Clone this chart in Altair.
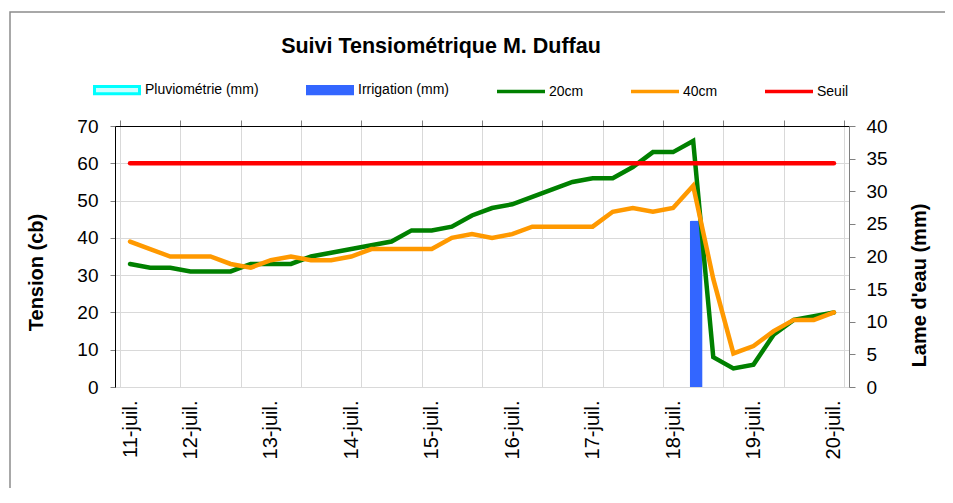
import json
import altair as alt
import pandas as pd

# ---------------- data ----------------
idx = list(range(36))
tension_20cm = [33, 32, 32, 31, 31, 31, 33, 33, 33, 35, 36, 37, 38, 39, 42, 42, 43, 46,
                48, 49, 51, 53, 55, 56, 56, 59, 63, 63, 66, 8, 5, 6, 14, 18, 19, 20]
tension_40cm = [39, 37, 35, 35, 35, 33, 32, 34, 35, 34, 34, 35, 37, 37, 37, 37, 40, 41,
                40, 41, 43, 43, 43, 43, 47, 48, 47, 48, 54, 29, 9, 11, 15, 18, 18, 20]
seuil = [60] * 36
irrigation = [0] * 28 + [25.5] + [0] * 7
pluviometrie = [0] * 36

date_labels = ["11-juil.", "12-juil.", "13-juil.", "14-juil.", "15-juil.",
               "16-juil.", "17-juil.", "18-juil.", "19-juil.", "20-juil."]
label_positions = [0, 3, 7, 11, 15, 19, 23, 27, 31, 35]

series_names = ["Pluviométrie (mm)", "Irrigation (mm)", "20cm", "40cm", "Seuil"]

df = pd.DataFrame({
    "idx": idx,
    "t20": tension_20cm,
    "t40": tension_40cm,
    "seuil": seuil,
    "irrigation": irrigation,
    "pluvio": pluviometrie,
})

FONT = "Liberation Sans"
GREEN, ORANGE, RED, BLUE, CYAN = "#008000", "#FF9900", "#FF0000", "#3366FF", "#00FFFF"

x_scale = alt.Scale(domain=[-0.5, 35.5], nice=False, zero=False)
grid_values = [-0.5 + 3 * k for k in range(13)]

label_expr = f"{json.dumps(date_labels)}[indexof({json.dumps(label_positions)}, datum.value)]"

x_grid = alt.X("idx:Q", scale=x_scale, axis=alt.Axis(
    values=grid_values, labels=False, title=None, grid=True, gridColor="#D9D9D9",
    gridWidth=1, tickColor="#808080", tickSize=6, tickWidth=1,
    domainColor="#000000", domainWidth=1))

x_lab = alt.X("idx:Q", scale=x_scale, axis=alt.Axis(
    values=label_positions, labelExpr=label_expr, labelAngle=270, labelAlign="right",
    labelBaseline="middle", ticks=False, domain=False, grid=False, title=None,
    labelFont=FONT, labelFontSize=20, labelColor="#000000", labelPadding=13,
    labelOverlap=False, labelFlush=False))

y_left_scale = alt.Scale(domain=[0, 70], nice=False)
y_right_scale = alt.Scale(domain=[0, 40], nice=False)

left_axis = alt.Axis(
    orient="left", values=list(range(0, 71, 10)), title="Tension (cb)",
    titleFont=FONT, titleFontSize=20, titleFontWeight="bold", titleColor="#000000",
    titleAngle=270, titleBaseline="middle", titleX=-79, titleY=146,
    labelFont=FONT, labelFontSize=19, labelColor="#000000", labelPadding=12,
    tickColor="#808080", tickSize=5, domainColor="#000000",
    grid=True, gridColor="#D9D9D9", gridWidth=1)

right_axis = alt.Axis(
    orient="right", values=list(range(0, 41, 5)), title="Lame d'eau (mm)",
    titleFont=FONT, titleFontSize=20, titleFontWeight="bold", titleColor="#000000",
    titleAngle=270, titleBaseline="middle", titleX=70, titleY=159,
    labelFont=FONT, labelFontSize=19, labelColor="#000000", labelPadding=11,
    tickColor="#808080", tickSize=6, domainColor="#808080", grid=False)

base = alt.Chart(df)

border = alt.Chart(pd.DataFrame({"k": [0]})).mark_rect(
    fill="transparent", stroke="#8C8C8C", strokeWidth=1.5).encode(
    x=alt.value(-105), x2=alt.value(1000), y=alt.value(-114), y2=alt.value(700))

bar_pluvio = base.mark_bar(color=CYAN, size=13, xOffset=-4).encode(
    x=x_lab, y=alt.Y("pluvio:Q", scale=y_right_scale, axis=right_axis))
bar_irr = base.mark_bar(color=BLUE, size=13, xOffset=3,
                        cornerRadiusTopLeft=2, cornerRadiusTopRight=2).encode(
    x=x_lab, y=alt.Y("irrigation:Q", scale=y_right_scale, axis=right_axis))
bars = alt.layer(border, bar_pluvio, bar_irr)

line_kw = dict(strokeWidth=4.5, strokeCap="round", strokeJoin="miter")
l20 = base.mark_line(color=GREEN, **line_kw).encode(
    x=x_grid, y=alt.Y("t20:Q", scale=y_left_scale, axis=left_axis))
l40 = base.mark_line(color=ORANGE, **line_kw).encode(
    x=x_grid, y=alt.Y("t40:Q", scale=y_left_scale, axis=left_axis))
lseuil = base.mark_line(color=RED, **line_kw).encode(
    x=x_grid, y=alt.Y("seuil:Q", scale=y_left_scale, axis=left_axis))

# legend (drawn from the series names; no marks)
legend_fill = ["#CCFFFF", BLUE, GREEN, ORANGE, RED]
legend_stroke = [CYAN, BLUE, GREEN, ORANGE, RED]
rect_path = "M-1,-0.16H1V0.16H-1Z"
line_path = "M-1,-0.012H1V0.012H-1Z"
legend_shapes = [rect_path, rect_path, line_path, line_path, line_path]

leg = alt.Legend(orient="none", legendX=-22, legendY=-60, direction="horizontal",
                 columns=5, title=None, symbolSize=2025, symbolStrokeWidth=3,
                 symbolOpacity=1, labelFont=FONT, labelFontSize=14, labelColor="#000000",
                 labelOffset=4, columnPadding=42, padding=0, labelLimit=300)

legend_layer = alt.Chart(pd.DataFrame({"serie": series_names})).transform_filter(
    "false").mark_point(filled=True, opacity=1).encode(
    fill=alt.Fill("serie:N", scale=alt.Scale(domain=series_names, range=legend_fill), legend=leg),
    stroke=alt.Stroke("serie:N", scale=alt.Scale(domain=series_names, range=legend_stroke), legend=leg),
    shape=alt.Shape("serie:N", scale=alt.Scale(domain=series_names, range=legend_shapes), legend=leg),
)

lines = alt.layer(l20, l40, lseuil, legend_layer)

chart = alt.layer(bars, lines).resolve_scale(y="independent").resolve_axis(
    x="independent", y="independent").properties(
    width=734, height=261,
    autosize=alt.AutoSizeParams(type="none"),
    padding={"left": 107, "top": 118, "right": 96, "bottom": 101},
    title=alt.TitleParams(text="Suivi Tensiométrique M. Duffau", font=FONT, fontSize=21.5,
                          fontWeight="bold", color="#000000", anchor="middle", dx=-41,
                          frame="group", baseline="middle", offset=0, dy=57),
).configure_view(stroke=None).configure(background="white")

chart.save("out.html", embed_options={"renderer": "svg", "actions": False})
